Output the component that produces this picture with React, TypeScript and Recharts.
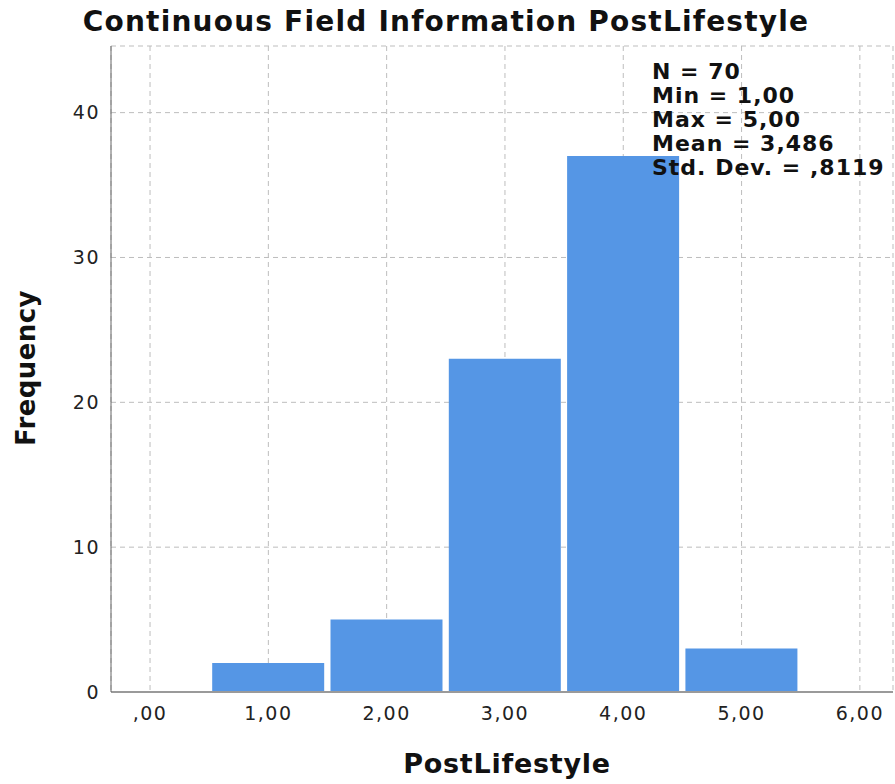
import { BarChart, Bar, XAxis, YAxis, CartesianGrid } from 'recharts';

const binCenters = [1, 2, 3, 4, 5];
const frequencies = [2, 5, 23, 37, 3];
const xTicks = [0, 1, 2, 3, 4, 5, 6];
const yTicks = [0, 10, 20, 30, 40];
const chartTitle = 'Continuous Field Information PostLifestyle';
const xTitle = 'PostLifestyle';
const yTitle = 'Frequency';
const statLines = ['N = 70', 'Min = 1,00', 'Max = 5,00', 'Mean = 3,486', 'Std. Dev. = ,8119'];

const data = binCenters.map((bin, i) => ({ bin, freq: frequencies[i] }));

const fmt = (v: number) => (v === 0 ? ',00' : v.toFixed(2).replace('.', ','));

const tickStyle = { fill: '#222', fontSize: 19, fontFamily: 'DejaVu Sans' };
const boldFont = 'DejaVu Sans';

export default function App() {
  return (
    <div style={{ position: 'absolute', left: 0, top: 0, width: 895, height: 784, background: '#fff', letterSpacing: '1.5px' }}>
      <BarChart width={895} height={784} data={data} margin={{ top: 46, right: 2, left: 0, bottom: 0 }}>
        <CartesianGrid stroke="#bdbdbd" strokeDasharray="5 4" />
        <XAxis
          dataKey="bin"
          type="number"
          domain={[-0.33, 6.28]}
          ticks={xTicks}
          interval={0}
          allowDataOverflow
          height={92}
          tickFormatter={fmt}
          tick={tickStyle}
          tickLine={false}
          tickMargin={9}
          axisLine={{ stroke: '#9a9a9a', strokeWidth: 2 }}
        />
        <YAxis
          type="number"
          domain={[0, 44.6]}
          ticks={yTicks}
          interval={0}
          allowDataOverflow
          width={111}
          tick={tickStyle}
          tickLine={false}
          tickMargin={5}
          axisLine={{ stroke: '#666' }}
        />
        <Bar dataKey="freq" fill="#5596e5" barSize={112} isAnimationActive={false} />
      </BarChart>
      <svg width={895} height={784} style={{ position: 'absolute', left: 0, top: 0, pointerEvents: 'none' }}>
        <text x={446} y={31} textAnchor="middle" fontFamily={boldFont} fontWeight="bold" fontSize={28} letterSpacing={1.2} fill="#111">
          {chartTitle}
        </text>
        <text x={507} y={773} textAnchor="middle" fontFamily={boldFont} fontWeight="bold" fontSize={27} letterSpacing={0.75} fill="#111">
          {xTitle}
        </text>
        <text
          x={0}
          y={0}
          transform="translate(35 368) rotate(-90)"
          textAnchor="middle"
          fontFamily={boldFont}
          fontWeight="bold"
          fontSize={26}
          letterSpacing={0.4}
          fill="#111"
        >
          {yTitle}
        </text>
        {statLines.map((line, i) => (
          <text key={line} x={652} y={79 + i * 24} fontFamily={boldFont} fontWeight="bold" fontSize={22} letterSpacing={1} fill="#111">
            {line}
          </text>
        ))}
      </svg>
    </div>
  );
}
